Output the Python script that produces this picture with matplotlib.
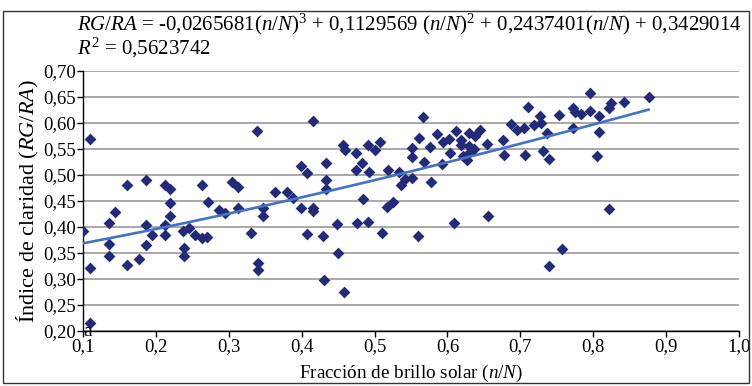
import numpy as np
import matplotlib
matplotlib.use("Agg")
import matplotlib.pyplot as plt
from matplotlib.patches import Rectangle

plt.rcParams['font.family'] = ['Liberation Serif', 'DejaVu Serif']
plt.rcParams['mathtext.fontset'] = 'custom'
plt.rcParams['mathtext.rm'] = 'Liberation Serif'
plt.rcParams['mathtext.it'] = 'Liberation Serif:italic'

# data: fraction of sunshine (n/N) vs clearness index (RG/RA)
nN = [0.100, 0.110, 0.110, 0.109, 0.136, 0.136, 0.136, 0.144, 0.161, 0.161,
      0.177, 0.186, 0.186, 0.186, 0.195, 0.212, 0.219, 0.219, 0.219, 0.212,
      0.212, 0.237, 0.238, 0.238, 0.246, 0.254, 0.263, 0.270, 0.263, 0.271,
      0.287, 0.295, 0.305, 0.313, 0.313, 0.331, 0.339, 0.340, 0.340, 0.347,
      0.347, 0.363, 0.380, 0.388, 0.399, 0.408, 0.399, 0.416, 0.416, 0.408,
      0.429, 0.416, 0.433, 0.433, 0.433, 0.431, 0.449, 0.450, 0.458, 0.457,
      0.459, 0.474, 0.474, 0.483, 0.491, 0.501, 0.507, 0.493, 0.484, 0.476,
      0.491, 0.510, 0.517, 0.525, 0.519, 0.534, 0.536, 0.542, 0.552, 0.552,
      0.552, 0.561, 0.567, 0.568, 0.576, 0.577, 0.586, 0.594, 0.602, 0.603,
      0.593, 0.612, 0.619, 0.619, 0.629, 0.629, 0.629, 0.627, 0.622, 0.638,
      0.645, 0.637, 0.654, 0.560, 0.609, 0.655, 0.676, 0.678, 0.687, 0.695,
      0.705, 0.711, 0.706, 0.719, 0.727, 0.728, 0.736, 0.753, 0.731, 0.740,
      0.772, 0.775, 0.783, 0.772, 0.795, 0.795, 0.808, 0.808, 0.805, 0.821,
      0.825, 0.842, 0.876, 0.822, 0.757, 0.739]
RG_RA = [0.393, 0.568, 0.321, 0.215, 0.408, 0.367, 0.344, 0.429, 0.480, 0.326,
         0.339, 0.491, 0.404, 0.365, 0.384, 0.480, 0.473, 0.445, 0.420, 0.404,
         0.384, 0.392, 0.360, 0.345, 0.397, 0.384, 0.379, 0.381, 0.480, 0.448,
         0.432, 0.427, 0.487, 0.477, 0.437, 0.388, 0.584, 0.330, 0.318, 0.437,
         0.421, 0.467, 0.467, 0.456, 0.517, 0.503, 0.437, 0.436, 0.431, 0.386,
         0.383, 0.604, 0.522, 0.491, 0.472, 0.298, 0.405, 0.350, 0.275, 0.557,
         0.548, 0.541, 0.510, 0.523, 0.557, 0.547, 0.564, 0.506, 0.453, 0.407,
         0.409, 0.388, 0.439, 0.448, 0.510, 0.506, 0.481, 0.492, 0.493, 0.551,
         0.535, 0.570, 0.612, 0.525, 0.554, 0.486, 0.578, 0.564, 0.568, 0.542,
         0.520, 0.584, 0.566, 0.557, 0.580, 0.555, 0.541, 0.528, 0.537, 0.575,
         0.586, 0.550, 0.560, 0.383, 0.407, 0.420, 0.567, 0.539, 0.597, 0.586,
         0.589, 0.630, 0.538, 0.596, 0.613, 0.599, 0.581, 0.615, 0.545, 0.530,
         0.628, 0.621, 0.616, 0.590, 0.657, 0.623, 0.613, 0.583, 0.537, 0.628,
         0.637, 0.639, 0.649, 0.435, 0.358, 0.324]

# cubic trend coefficients (from the chart's equation)
coef = [-0.0265681, 0.1129569, 0.2437401, 0.3429014]

x_ticks = [0.1, 0.2, 0.3, 0.4, 0.5, 0.6, 0.7, 0.8, 0.9, 1.0]
x_ticklabels = ['0,1', '0,2', '0,3', '0,4', '0,5', '0,6', '0,7', '0,8', '0,9', '1,0']
y_ticks = [0.20, 0.25, 0.30, 0.35, 0.40, 0.45, 0.50, 0.55, 0.60, 0.65, 0.70]
y_ticklabels = ['0,20', '0,25', '0,30', '0,35', '0,40', '0,45', '0,50', '0,55', '0,60', '0,65', '0,70']

fig = plt.figure(figsize=(7.52, 3.86), dpi=100)
ax = fig.add_axes([83/752, 1-331/386, (739-83)/752, (331-70.7)/386])

ax.set_xlim(0.1, 1.0)
ax.set_ylim(0.20, 0.70)
ax.set_yticks(y_ticks)
ax.set_yticklabels(y_ticklabels)
ax.set_xticks(x_ticks)
ax.set_xticklabels(x_ticklabels)
ax.yaxis.grid(True, color='#9a9a9a', linewidth=1.2)
ax.set_axisbelow(True)
for s in ['top', 'right']:
    ax.spines[s].set_visible(False)
for s in ['left', 'bottom']:
    ax.spines[s].set_color('black')
    ax.spines[s].set_linewidth(1.0)
ax.tick_params(axis='both', direction='out', length=4, width=1.0, labelsize=13.5, pad=1)

ax.scatter(nN, RG_RA, marker='D', s=36, color='#232a78', zorder=3, linewidths=0)

xs = np.linspace(min(nN), max(nN), 200)
ax.plot(xs, np.polyval(coef, xs), color='#4472c4', linewidth=1.9, zorder=4)

ax.text(0.1, 0.2, 'a', fontsize=14, ha='left', va='center', zorder=5)

ax.set_xlabel(r'Fracción de brillo solar ($n/N$)', fontsize=13.8, labelpad=6)
ax.set_ylabel(r'Índice de claridad ($RG/RA$)', fontsize=16, labelpad=2)

fig.text(77/752, 1-36/386,
         r'$RG/RA$ = -0,0265681($n/N$)$^3$ + 0,1129569 ($n/N$)$^2$ + 0,2437401($n/N$) + 0,3429014'
         '\n' r'$R^2$ = 0,5623742',
         fontsize=15, ha='left', va='center', linespacing=0.95)

fig.patches.append(Rectangle((3/752, 3/386), 746/752, 372/386, transform=fig.transFigure,
                             fill=False, edgecolor='#333333', linewidth=1.0))

fig.savefig('out.png', dpi=100)
